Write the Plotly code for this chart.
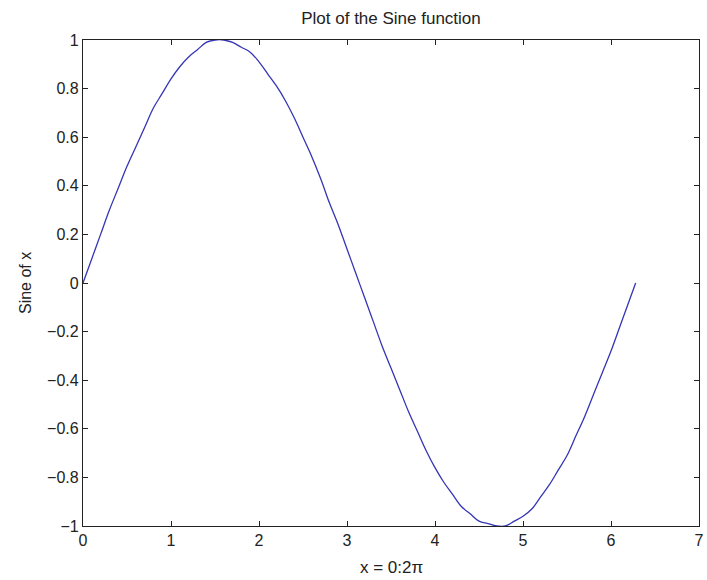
import plotly.graph_objects as go

# values
x_vals = [0, 0.1, 0.2, 0.3, 0.4, 0.5, 0.6, 0.7, 0.8, 0.9,
          1.0, 1.1, 1.2, 1.3, 1.4, 1.5, 1.6, 1.7, 1.8, 1.9,
          2.0, 2.1, 2.2, 2.3, 2.4, 2.5, 2.6, 2.7, 2.8, 2.9,
          3.0, 3.1, 3.2, 3.3, 3.4, 3.5, 3.6, 3.7, 3.8, 3.9,
          4.0, 4.1, 4.2, 4.3, 4.4, 4.5, 4.6, 4.7, 4.8, 4.9,
          5.0, 5.1, 5.2, 5.3, 5.4, 5.5, 5.6, 5.7, 5.8, 5.9,
          6.0, 6.1, 6.2, 6.28]
y_vals = [0.00, 0.10, 0.20, 0.30, 0.39, 0.48, 0.56, 0.64, 0.72, 0.78,
          0.84, 0.89, 0.93, 0.96, 0.99, 1.00, 1.00, 0.99, 0.97, 0.95,
          0.91, 0.86, 0.81, 0.75, 0.68, 0.60, 0.52, 0.43, 0.33, 0.24,
          0.14, 0.04, -0.06, -0.16, -0.26, -0.35, -0.44, -0.53, -0.61, -0.69,
          -0.76, -0.82, -0.87, -0.92, -0.95, -0.98, -0.99, -1.00, -1.00, -0.98,
          -0.96, -0.93, -0.88, -0.83, -0.77, -0.71, -0.63, -0.55, -0.46, -0.37,
          -0.28, -0.18, -0.08, 0.00]

x_ticks = [0, 1, 2, 3, 4, 5, 6, 7]
y_ticks = [-1, -0.8, -0.6, -0.4, -0.2, 0, 0.2, 0.4, 0.6, 0.8, 1]

font_family = "Liberation Sans, Arial, sans-serif"

fig = go.Figure()
fig.add_trace(go.Scatter(
    x=x_vals, y=y_vals, mode="lines",
    line=dict(color="#3535b5", width=1.3, shape="spline"),
    showlegend=False, hoverinfo="skip",
))

axis_style = dict(
    showgrid=False, zeroline=False,
    showline=True, linecolor="#222", linewidth=1.3, mirror="ticks",
    ticks="inside", ticklen=5, tickcolor="#222", tickwidth=1,
    tickfont=dict(family=font_family, size=16, color="#222"),
    automargin=False,
)

fig.update_xaxes(range=[0, 7], tickvals=x_ticks, **axis_style)
fig.update_yaxes(range=[-1, 1], tickvals=y_ticks, **axis_style)

fig.update_layout(
    width=707, height=580,
    margin=dict(l=83, r=8, t=40, b=54),
    paper_bgcolor="white", plot_bgcolor="white",
    font=dict(family=font_family, color="#222"),
    title=dict(text="Plot of the Sine function", xref="paper", x=0.5, xanchor="center",
               yref="container", y=1 - 18 / 580, yanchor="middle",
               font=dict(size=17, color="#222")),
    annotations=[
        dict(text="x = 0:2π", xref="paper", yref="paper",
             x=0.5, y=-41 / 486, xanchor="center", yanchor="middle",
             showarrow=False, font=dict(size=17)),
        dict(text="Sine of x", xref="paper", yref="paper",
             x=-58 / 616, y=0.5, xanchor="center", yanchor="middle",
             textangle=-90, showarrow=False, font=dict(size=16)),
    ],
)

# drop the default page margin so the figure fills the window exactly
fig.write_html(
    "out.html",
    config={"displayModeBar": False},
    post_script="document.body.style.margin='0';document.body.style.overflow='hidden';",
)
